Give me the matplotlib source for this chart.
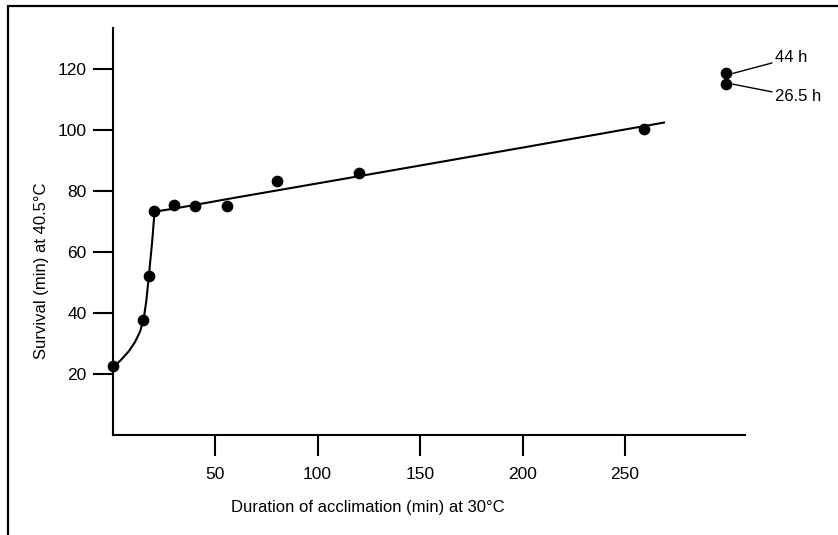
import matplotlib.pyplot as plt
from matplotlib.patches import Rectangle

plt.rcParams['font.family'] = ['Liberation Sans', 'DejaVu Sans']

# Measured survival at 40.5 C after acclimation at 30 C
accl_min = [0, 15, 18, 20, 30, 40, 56, 80, 120, 259]
survival = [22.5, 37.7, 52.0, 73.4, 75.4, 75.1, 75.1, 83.2, 85.8, 100.4]

# Long acclimation points (shown at the right edge)
long_x = [299, 299]
long_y = [118.5, 115.0]
long_labels = ['44 h', '26.5 h']
label_y = [123.6, 110.8]

# Fitted curve
fit_x = [0, 4, 8, 11, 13.5, 15.2, 16.5, 17.7, 19.3, 20.5, 30, 60, 120, 200, 269]
fit_y = [22.0, 24.5, 27.5, 30.5, 34.0, 38.0, 44.0, 52.0, 63.0, 73.2, 74.2, 77.8, 84.8, 94.2, 102.4]

xticks = [50, 100, 150, 200, 250]
yticks = [20, 40, 60, 80, 100, 120]

fig = plt.figure(figsize=(8.38, 5.35), dpi=100)
ax = fig.add_axes([112.5 / 838, 100 / 535, 632.5 / 838, 407 / 535])

# frame around the figure (right and bottom cut off)
fig.patches.append(Rectangle((8 / 838, -0.1), 1.0, (535 - 6) / 535 + 0.1,
                             transform=fig.transFigure, fill=False,
                             edgecolor='black', linewidth=1.6))

ax.plot(fit_x, fit_y, color='black', linewidth=1.5, zorder=2)
ax.scatter(accl_min, survival, s=55, color='black', zorder=3, clip_on=False)
ax.scatter(long_x, long_y, s=55, color='black', zorder=3, clip_on=False)

for px, py, ty, txt in zip(long_x, long_y, label_y, long_labels):
    ax.annotate(txt, xy=(px + 3.5, py), xytext=(323, ty),
                fontsize=12, va='center', ha='left', annotation_clip=False,
                arrowprops=dict(arrowstyle='-', color='black', lw=1.0,
                                shrinkA=0, shrinkB=0))

ax.set_xlim(0, 308.5)
ax.set_ylim(0, 133.4)
ax.set_xticks(xticks)
ax.set_yticks(yticks)

for side in ['top', 'right']:
    ax.spines[side].set_visible(False)
for side in ['left', 'bottom']:
    ax.spines[side].set_linewidth(1.5)

ax.tick_params(axis='x', length=15, width=1.5, pad=8, labelsize=12.5)
ax.tick_params(axis='y', length=14.5, width=1.5, pad=4, labelsize=12.5)

ax.set_xlabel('Duration of acclimation (min) at 30\u00b0C', fontsize=12)
ax.set_ylabel('Survival (min) at 40.5\u00b0C', fontsize=12)
ax.xaxis.set_label_coords(0.404, -0.16)
ax.yaxis.set_label_coords(-0.1, 0.403)

fig.savefig('out.png', dpi=100)
